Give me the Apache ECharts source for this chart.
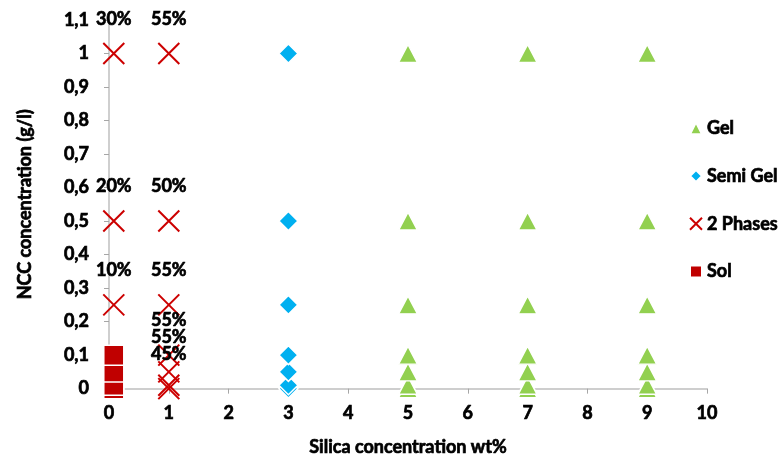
<!DOCTYPE html>
<html>
<head>
<meta charset="utf-8">
<script src="https://cdn.jsdelivr.net/npm/echarts@6/dist/echarts.min.js"></script>
<style>
  html, body { margin: 0; padding: 0; background: #fff; }
  #chart { width: 784px; height: 462px; }
</style>
</head>
<body>
<div id="chart"></div>
<script>
// Phase diagram: silica wt% (x) vs NCC concentration g/l (y)
const xTicks = [0, 1, 2, 3, 4, 5, 6, 7, 8, 9, 10];
const yTicks = [0, 0.1, 0.2, 0.3, 0.4, 0.5, 0.6, 0.7, 0.8, 0.9, 1.0, 1.1];

const gelX = [5, 5, 5, 5, 5, 5, 5, 7, 7, 7, 7, 7, 7, 7, 9, 9, 9, 9, 9, 9, 9];
const gelY = [0, 0.01, 0.05, 0.1, 0.25, 0.5, 1, 0, 0.01, 0.05, 0.1, 0.25, 0.5, 1, 0, 0.01, 0.05, 0.1, 0.25, 0.5, 1];

const semiX = [3, 3, 3, 3, 3, 3, 3];
const semiY = [0, 0.01, 0.05, 0.1, 0.25, 0.5, 1];

const twoX = [0.08, 0.08, 0.08, 1, 1, 1, 1, 1, 1, 1];
const twoY = [1, 0.5, 0.25, 0, 0.01, 0.05, 0.1, 0.25, 0.5, 1];
const twoLabels = ['30%', '20%', '10%', '45%', '', '55%', '55%', '55%', '50%', '55%'];

const solX = [0.08, 0.08, 0.08, 0.08];
const solY = [0, 0.01, 0.05, 0.1];

const FONT = 'Lato';
const pairs = (xs, ys) => xs.map((x, i) => [x, ys[i]]);
const fmtComma = v => String(+(+v).toFixed(1)).replace('.', ',');

const crossPath = 'path://M0,0L20,20M20,0L0,20';
// heavy black text: bold face plus a thin same-colour outline
const txt = {
  fontFamily: FONT, fontWeight: 'bold', fontSize: 18, color: '#000',
  textBorderColor: '#000', textBorderWidth: 0.7
};

const chart = echarts.init(document.getElementById('chart'));
chart.setOption({
  animation: false,
  textStyle: { fontFamily: FONT },
  grid: { left: 109, right: 77, top: 20, bottom: 72 },
  legend: {
    orient: 'vertical',
    left: 684,
    top: 114,
    itemGap: 29,
    itemWidth: 12,
    itemHeight: 12,
    textStyle: txt,
    data: ['Gel', 'Semi Gel', '2 Phases', 'Sol']
  },
  xAxis: {
    type: 'value',
    min: 0, max: 10, interval: 1,
    name: 'Silica concentration wt%',
    nameLocation: 'middle',
    nameGap: 50,
    nameTextStyle: txt,
    axisLine: { show: true, lineStyle: { color: '#bfbfbf', width: 1.5 } },
    axisTick: { show: true, length: 5, lineStyle: { color: '#a6a6a6' } },
    splitLine: { show: false },
    axisLabel: Object.assign({ margin: 16, formatter: v => xTicks.includes(v) ? String(v) : '' }, txt)
  },
  yAxis: {
    type: 'value',
    min: 0, max: 1.1, interval: 0.1,
    name: 'NCC concentration (g/l)',
    nameLocation: 'middle',
    nameGap: 75,
    nameTextStyle: txt,
    axisLine: { show: true, lineStyle: { color: '#bfbfbf', width: 1.5 } },
    axisTick: { show: true, length: 5, lineStyle: { color: '#a6a6a6' } },
    splitLine: { show: false },
    axisLabel: Object.assign({ margin: 20, formatter: v => fmtComma(v) }, txt)
  },
  series: [
    {
      name: 'Gel',
      type: 'scatter',
      symbol: 'triangle',
      symbolSize: [19, 18],
      itemStyle: { color: '#92d050', borderColor: '#fff', borderWidth: 1.5, opacity: 1 },
      data: pairs(gelX, gelY)
    },
    {
      name: 'Semi Gel',
      type: 'scatter',
      symbol: 'diamond',
      symbolSize: [19, 19],
      itemStyle: { color: '#00b0f0', borderColor: '#fff', borderWidth: 1.5, opacity: 1 },
      data: pairs(semiX, semiY)
    },
    {
      name: '2 Phases',
      type: 'scatter',
      symbol: crossPath,
      symbolSize: 21,
      itemStyle: { color: '#cc0000', borderColor: '#cc0000', borderWidth: 2, opacity: 1 },
      label: Object.assign({
        show: true,
        position: 'top',
        distance: 14,
        formatter: p => twoLabels[p.dataIndex]
      }, txt),
      data: pairs(twoX, twoY)
    },
    {
      name: 'Sol',
      type: 'scatter',
      symbol: 'rect',
      symbolSize: 20,
      itemStyle: { color: '#c00000', borderColor: '#fff', borderWidth: 1.5, opacity: 1 },
      data: pairs(solX, solY)
    }
  ]
});
</script>
</body>
</html>
